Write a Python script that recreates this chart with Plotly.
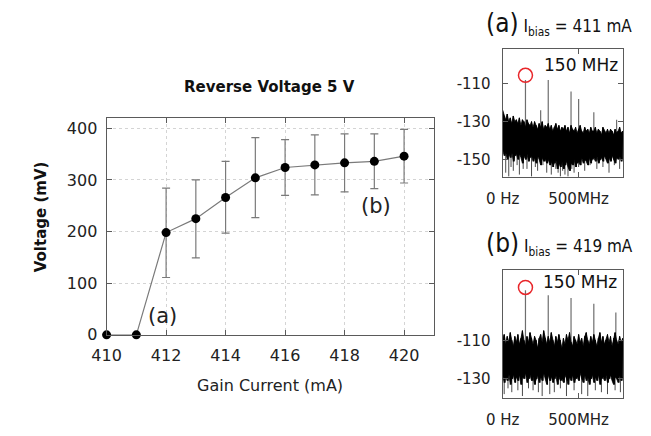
import plotly.graph_objects as go

W, H = 651, 436

# ---------------- main chart data ----------------
gain_current = [410, 411, 412, 413, 414, 415, 416, 417, 418, 419, 420]
voltage = [0, 0, 198, 225, 266, 304, 324, 329, 333, 336, 346]
volt_upper = [None, None, 284, 300, 336, 382, 378, 387, 389, 389, 398]
volt_lower = [None, None, 111, 149, 197, 227, 270, 271, 277, 283, 294]
x_ticks = [410, 412, 414, 416, 418, 420]
y_ticks = [0, 100, 200, 300, 400]

# ---------------- spectrum (a) 411 mA ----------------
freq_bins = list(range(0, 800, 10))
noise_hi_a = [-124, -127, -129, -126, -130, -128, -131, -127, -130, -129,
              -131, -128, -132, -129, -130, -133, -129, -131, -132, -130,
              -133, -130, -132, -134, -131, -133, -130, -134, -132, -133,
              -131, -134, -132, -135, -133, -131, -134, -132, -135, -133,
              -134, -132, -135, -133, -136, -132, -134, -135, -133, -136,
              -134, -132, -135, -136, -133, -135, -134, -136, -133, -135,
              -135, -133, -136, -134, -135, -137, -133, -135, -136, -134,
              -136, -134, -135, -137, -134, -136, -135, -133, -136, -135]
noise_lo_a = [-145, -148, -146, -150, -147, -149, -146, -151, -148, -147,
              -150, -147, -149, -152, -148, -150, -147, -151, -149, -148,
              -151, -149, -152, -148, -150, -153, -149, -151, -150, -152,
              -150, -153, -151, -154, -152, -150, -155, -152, -154, -151,
              -155, -153, -151, -154, -156, -152, -153, -150, -154, -152,
              -151, -153, -149, -152, -150, -151, -153, -149, -152, -150,
              -149, -151, -148, -152, -150, -149, -151, -148, -150, -152,
              -149, -151, -148, -150, -152, -149, -150, -148, -151, -149]
dip_freq_a = [20, 40, 55, 70, 95, 110, 135, 160, 190, 215, 230, 265, 290, 320, 350, 365,
              380, 395, 410, 430, 455, 470, 500, 540, 575, 620, 660, 700, 735, 770]
dip_level_a = [-157, -159, -154, -156, -153, -158, -155, -155, -159, -154, -156, -153, -157,
               -158, -155, -157, -159, -156, -158, -159, -155, -157, -154, -156, -153, -155,
               -154, -157, -153, -155]
peak_freq_a = [150, 250, 300, 450, 500, 600, 750]
peak_level_a = [-108, -124, -108, -114, -118, -125, -129]
circle_a = (150, -105.5)
y_ticks_a = [-110, -130, -150]
y_labels_a = ["-110", "-130", "-150"]

# ---------------- spectrum (b) 419 mA ----------------
noise_hi_b = [-110, -107, -112, -108, -111, -106, -110, -113, -108, -111,
              -107, -112, -109, -105, -110, -113, -108, -111, -106, -109,
              -112, -108, -110, -114, -109, -107, -111, -105, -109, -112,
              -108, -111, -106, -110, -113, -108, -111, -107, -110, -114,
              -109, -112, -107, -110, -106, -111, -113, -108, -110, -112,
              -107, -111, -109, -113, -108, -106, -110, -112, -108, -111,
              -107, -110, -113, -109, -106, -111, -108, -112, -110, -107,
              -111, -108, -113, -109, -106, -110, -112, -108, -111, -109]
noise_lo_b = [-128, -132, -129, -131, -127, -133, -130, -128, -132, -129,
              -131, -128, -133, -129, -130, -127, -132, -130, -128, -131,
              -129, -133, -130, -128, -132, -129, -131, -127, -130, -133,
              -128, -131, -129, -132, -130, -128, -133, -129, -131, -130,
              -132, -128, -130, -133, -129, -131, -128, -132, -130, -129,
              -131, -127, -130, -132, -128, -131, -129, -133, -130, -128,
              -132, -129, -131, -128, -133, -130, -129, -131, -128, -132,
              -130, -128, -131, -133, -129, -130, -132, -128, -131, -129]
dip_freq_b = [10, 35, 60, 100, 130, 170, 200, 235, 260, 310, 340, 380, 420, 470, 520,
              560, 610, 650, 690, 740, 775]
dip_level_b = [-138, -135, -137, -136, -139, -135, -136, -137, -139, -138, -137, -135,
               -139, -136, -138, -139, -136, -137, -138, -136, -137]
peak_freq_b = [150, 300, 450, 600, 745]
peak_level_b = [-84, -86.5, -88, -91, -95.5]
circle_b = (150, -82.5)
y_ticks_b = [-110, -130]
y_labels_b = ["-110", "-130"]

spec_x_ticks = [0, 500]
spec_x_labels = ["0 Hz", "500MHz"]

fig = go.Figure()

# main chart
err_plus = [None if u is None else u - v for u, v in zip(volt_upper, voltage)]
err_minus = [None if l is None else v - l for l, v in zip(volt_lower, voltage)]
fig.add_trace(go.Scatter(
    x=gain_current, y=voltage, mode="lines+markers",
    line=dict(color="#7a7a7a", width=1.2),
    marker=dict(color="black", size=9),
    error_y=dict(type="data", symmetric=False, array=err_plus, arrayminus=err_minus,
                 color="#7a7a7a", thickness=1.2, width=4),
    cliponaxis=False, showlegend=False, xaxis="x", yaxis="y"))


def add_spectrum(xa, ya, hi, lo, dip_f, dip_l, pk_f, pk_l, base_pk, base_dip, circ):
    # peaks (gray vertical lines)
    px, py = [], []
    for f, v in zip(pk_f, pk_l):
        px += [f, f, None]
        py += [base_pk, v, None]
    fig.add_trace(go.Scatter(x=px, y=py, mode="lines", line=dict(color="#6e6e6e", width=1.2),
                             showlegend=False, xaxis=xa, yaxis=ya))
    # downward dips
    dx, dy = [], []
    for f, v in zip(dip_f, dip_l):
        dx += [f, f, None]
        dy += [base_dip, v, None]
    fig.add_trace(go.Scatter(x=dx, y=dy, mode="lines", line=dict(color="#4a4a4a", width=1),
                             showlegend=False, xaxis=xa, yaxis=ya))
    # noise band
    fig.add_trace(go.Scatter(x=freq_bins, y=lo, mode="lines", line=dict(color="black", width=0.8),
                             showlegend=False, xaxis=xa, yaxis=ya))
    fig.add_trace(go.Scatter(x=freq_bins, y=hi, mode="lines", line=dict(color="black", width=0.8),
                             fill="tonexty", fillcolor="black",
                             showlegend=False, xaxis=xa, yaxis=ya))
    zx, zy = [], []
    for f, h, l in zip(freq_bins, hi, lo):
        zx += [f, f + 5]
        zy += [h, l]
    fig.add_trace(go.Scatter(x=zx, y=zy, mode="lines", line=dict(color="black", width=1),
                             showlegend=False, xaxis=xa, yaxis=ya))
    # red circle
    fig.add_trace(go.Scatter(x=[circ[0]], y=[circ[1]], mode="markers",
                             marker=dict(symbol="circle-open", size=14, color="#e8262a",
                                         line=dict(width=1.5, color="#e8262a")),
                             showlegend=False, xaxis=xa, yaxis=ya, cliponaxis=False))


add_spectrum("x2", "y2", noise_hi_a, noise_lo_a, dip_freq_a, dip_level_a,
             peak_freq_a, peak_level_a, -140, -146, circle_a)
add_spectrum("x3", "y3", noise_hi_b, noise_lo_b, dip_freq_b, dip_level_b,
             peak_freq_b, peak_level_b, -118, -128, circle_b)


def px2x(p):
    return p / W


def px2y(p):
    return 1 - p / H


frame = "#5a5a5a"
main_font = dict(family="DejaVu Sans", size=16, color="#222")
small_font = dict(family="DejaVu Sans", size=15, color="#222")

fig.update_layout(
    width=W, height=H, margin=dict(l=0, r=0, t=0, b=0),
    paper_bgcolor="white", plot_bgcolor="white", showlegend=False,
    font=dict(family="DejaVu Sans", color="#222"),
    xaxis=dict(domain=[px2x(92), px2x(428)], range=[410, 421], anchor="y",
               tickvals=x_ticks, ticks="inside", ticklen=5, tickcolor=frame,
               showline=True, linecolor=frame, linewidth=1, mirror="ticks",
               showgrid=True, gridcolor="#d4d4d4", griddash="dot", gridwidth=1,
               zeroline=False, tickfont=main_font, ticklabelstandoff=6),
    yaxis=dict(domain=[px2y(342.7), px2y(120.7)], range=[0, 420], anchor="x",
               tickvals=y_ticks, ticks="inside", ticklen=5, tickcolor=frame,
               showline=True, linecolor=frame, linewidth=1, mirror="ticks",
               showgrid=True, gridcolor="#d4d4d4", griddash="dot", gridwidth=1,
               zeroline=False, tickfont=main_font, ticklabelstandoff=5),
    xaxis2=dict(domain=[px2x(498.7), px2x(622.7)], range=[0, 795], anchor="y2",
                tickvals=spec_x_ticks, ticktext=spec_x_labels, ticks="inside", ticklen=5,
                tickcolor=frame, showline=True, linecolor=frame, mirror="ticks",
                showgrid=False, zeroline=False, tickfont=small_font, ticklabelstandoff=8),
    yaxis2=dict(domain=[px2y(181), px2y(50)], range=[-159.2, -91.5], anchor="x2",
                tickvals=y_ticks_a, ticktext=y_labels_a, ticks="inside", ticklen=5,
                tickcolor=frame, showline=True, linecolor=frame, mirror="ticks",
                showgrid=False, zeroline=False, tickfont=small_font, ticklabelstandoff=8),
    xaxis3=dict(domain=[px2x(498.7), px2x(622.7)], range=[0, 795], anchor="y3",
                tickvals=spec_x_ticks, ticktext=spec_x_labels, ticks="inside", ticklen=5,
                tickcolor=frame, showline=True, linecolor=frame, mirror="ticks",
                showgrid=False, zeroline=False, tickfont=small_font, ticklabelstandoff=8),
    yaxis3=dict(domain=[px2y(407.3), px2y(276.7)], range=[-140, -73.6], anchor="x3",
                tickvals=y_ticks_b, ticktext=y_labels_b, ticks="inside", ticklen=5,
                tickcolor=frame, showline=True, linecolor=frame, mirror="ticks",
                showgrid=False, zeroline=False, tickfont=small_font, ticklabelstandoff=8),
)

ann = []
ann.append(dict(text="<b>Reverse Voltage 5 V</b>", x=px2x(259.5), y=px2y(89),
                font=dict(family="DejaVu Sans", size=15, color="#111")))
ann.append(dict(text="<b>Voltage (mV)</b>", x=px2x(25), y=px2y(222), textangle=-90,
                font=dict(family="DejaVu Sans", size=15, color="#111")))
ann.append(dict(text="Gain Current (mA)", x=px2x(259.7), y=px2y(395),
                font=dict(family="DejaVu Sans", size=16, color="#222")))
ann.append(dict(text="(a)", x=px2x(149), y=px2y(323),
                font=dict(family="DejaVu Sans", size=21, color="#222")))
ann.append(dict(text="(b)", x=px2x(368.7), y=px2y(211),
                font=dict(family="DejaVu Sans", size=21, color="#222")))
ann.append(dict(text="150 MHz", x=px2x(579), y=px2y(66.7),
                font=dict(family="DejaVu Sans", size=17, color="#111")))
ann.append(dict(text="150 MHz", x=px2x(578), y=px2y(288.5),
                font=dict(family="DejaVu Sans", size=17, color="#111")))
title_font = dict(family="DejaVu Sans Condensed, Liberation Sans Narrow, Liberation Sans", size=17, color="#111")
ann.append(dict(text="<span style='font-size:26px'>(a)</span> I<sub>bias</sub> = 411 mA",
                x=px2x(480), y=px2y(24), xanchor="left", font=title_font))
ann.append(dict(text="<span style='font-size:26px'>(b)</span> I<sub>bias</sub> = 419 mA",
                x=px2x(480), y=px2y(249), xanchor="left", font=title_font))
for a in ann:
    a.setdefault("xanchor", "center")
    a["yanchor"] = "middle"
    a["xref"] = "paper"
    a["yref"] = "paper"
    a["showarrow"] = False
fig.update_layout(annotations=ann)

fig.write_html("out.html", config={"displayModeBar": False},
               post_script="document.body.style.margin='0';document.body.style.padding='0';")
